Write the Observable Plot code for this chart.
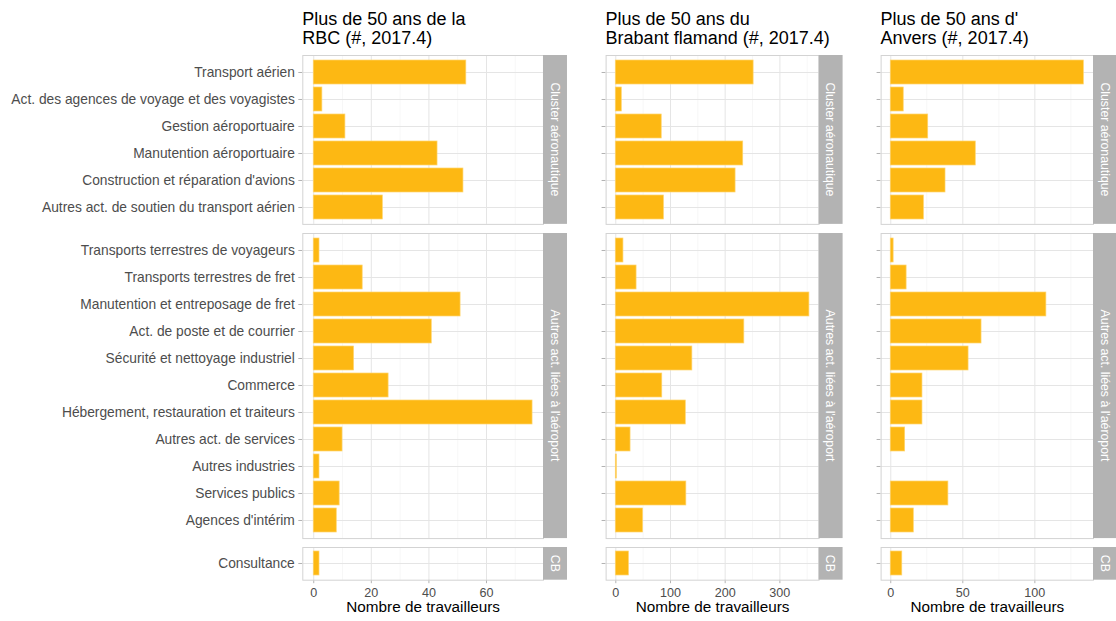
<!DOCTYPE html>
<html>
<head>
<meta charset="utf-8">
<script src="https://cdn.jsdelivr.net/npm/d3@7"></script>
<script src="https://cdn.jsdelivr.net/npm/@observablehq/plot@0.6"></script>
<style>
  html, body { margin: 0; padding: 0; background: #fff; overflow: hidden; }
  #chart { position: relative; width: 1116px; height: 621px; overflow: hidden;
           font-family: "Liberation Sans", Arial, Helvetica, sans-serif; }
  .title { position: absolute; top: 10px; font-size: 18px; line-height: 19px; color: #000; white-space: pre; }
  .facet { position: absolute; }
  .facet g[aria-label="x-axis"] line, .facet g[aria-label="y-axis"] line,
  .facet g[aria-label="x-axis tick"] path, .facet g[aria-label="y-axis tick"] path { stroke: #b3b3b3; }
  .facet g[aria-label="x-axis"] text, .facet g[aria-label="x-axis tick label"] text { font-size: 12.6px; }
</style>
</head>
<body>
<div id="chart"></div>
<script>
// Activity categories, one list per facet row
const clusterActivities = [
  "Transport aérien",
  "Act. des agences de voyage et des voyagistes",
  "Gestion aéroportuaire",
  "Manutention aéroportuaire",
  "Construction et réparation d'avions",
  "Autres act. de soutien du transport aérien"
];
const airportActivities = [
  "Transports terrestres de voyageurs",
  "Transports terrestres de fret",
  "Manutention et entreposage de fret",
  "Act. de poste et de courrier",
  "Sécurité et nettoyage industriel",
  "Commerce",
  "Hébergement, restauration et traiteurs",
  "Autres act. de services",
  "Autres industries",
  "Services publics",
  "Agences d'intérim"
];
const cbActivities = ["Consultance"];
const groupLabels = ["Cluster aéronautique", "Autres act. liées à l'aéroport", "CB"];

// Workers aged 50+ per activity (same order as the lists above, cluster → autres → CB)
const rbcValues     = [53, 3, 11, 43, 52, 24,   2, 17, 51, 41, 14, 26, 76, 10, 2, 9, 8,   2];
const brabantValues = [252, 11, 84, 233, 219, 88,   14, 38, 354, 235, 140, 85, 128, 27, 2, 129, 50,   24];
const anversValues  = [134, 9, 26, 59, 38, 23,   2, 11, 108, 63, 54, 22, 22, 10, 0, 40, 16,   8];

const regionTitles = [
  "Plus de 50 ans de la\nRBC (#, 2017.4)",
  "Plus de 50 ans du\nBrabant flamand (#, 2017.4)",
  "Plus de 50 ans d'\nAnvers (#, 2017.4)"
];
const rbcTicks = [0, 20, 40, 60],       rbcMinor = [10, 30, 50, 70];
const brabantTicks = [0, 100, 200, 300], brabantMinor = [50, 150, 250, 350];
const anversTicks = [0, 50, 100],        anversMinor = [25, 75, 125];
const axisTitle = "Nombre de travailleurs";

// ---- assemble tables ----
const groups = [clusterActivities, airportActivities, cbActivities];
function buildRows(values) {
  const rows = [];
  let k = 0;
  groups.forEach((acts, g) => acts.forEach(a => rows.push({activity: a, group: groupLabels[g], value: values[k++]})));
  return rows;
}
const regions = [
  {title: regionTitles[0], rows: buildRows(rbcValues),     ticks: rbcTicks,     minor: rbcMinor},
  {title: regionTitles[1], rows: buildRows(brabantValues), ticks: brabantTicks, minor: brabantMinor},
  {title: regionTitles[2], rows: buildRows(anversValues),  ticks: anversTicks,  minor: anversMinor}
];

// ---- layout ----
const columns = [
  {svgLeft: 0,   panelLeft: 302.3, panelRight: 543},
  {svgLeft: 575, panelLeft: 605.6, panelRight: 818.6},
  {svgLeft: 850, panelLeft: 880.6, panelRight: 1093}
];
const stripW = 24;
const step = 27.24, gap = 8.7, firstTop = 55.3;
const barFill = "#FDB813", barStroke = "#FFD56E";
const fontFamily = '"Liberation Sans", Arial, Helvetica, sans-serif';

// grey facet strip on the right of each panel, label reading top to bottom
function stripMark(label, x0, y0, h) {
  return () => {
    const g = d3.create("svg:g");
    g.append("rect").attr("x", x0).attr("y", y0).attr("width", stripW).attr("height", h).attr("fill", "#b3b3b3");
    g.append("text")
      .attr("transform", `translate(${x0 + stripW / 2},${y0 + h / 2}) rotate(90)`)
      .attr("text-anchor", "middle").attr("dy", "0.35em")
      .attr("fill", "#ffffff").attr("font-size", 12.3)
      .text(label);
    return g.node();
  };
}

const chart = document.getElementById("chart");

regions.forEach((region, c) => {
  const col = columns[c];
  const title = document.createElement("div");
  title.className = "title";
  title.style.left = col.panelLeft + "px";
  title.textContent = region.title;
  chart.appendChild(title);

  const maxV = d3.max(region.rows, d => d.value);
  const xDomain = [-0.05 * maxV, 1.05 * maxV];
  const svgWidth = col.panelRight + stripW - col.svgLeft;
  const marginLeft = col.panelLeft - col.svgLeft;

  let top = firstTop;
  groups.forEach((acts, g) => {
    const h = (acts.length + 0.2) * step;
    const last = g === groups.length - 1;
    const mt = 1, mb = last ? 44 : 1;
    const rows = region.rows.filter(d => d.group === groupLabels[g]);
    const plot = Plot.plot({
      width: svgWidth,
      height: h + mt + mb,
      marginTop: mt,
      marginBottom: mb,
      marginLeft,
      marginRight: stripW,
      style: {fontFamily, fontSize: "13.8px", color: "#4d4d4d", background: "transparent", overflow: "visible"},
      x: {domain: xDomain, ticks: region.ticks, tickSize: 3.5, tickPadding: 4, label: null, axis: last ? "bottom" : null},
      y: {domain: acts, paddingInner: 0.1, paddingOuter: 0.15, tickSize: 4, tickPadding: 4, label: null,
          tickFormat: c === 0 ? (d => d) : (() => "")},
      marks: [
        Plot.ruleX(region.minor, {x: d => d, stroke: "#f1f1f1", strokeWidth: 0.6}),
        Plot.ruleX(region.ticks, {x: d => d, stroke: "#e5e5e5", strokeWidth: 1}),
        Plot.ruleY(acts, {y: d => d, stroke: "#e5e5e5", strokeWidth: 1}),
        Plot.barX(rows, {x: "value", y: "activity", fill: barFill, stroke: barStroke, strokeWidth: 0.7}),
        Plot.frame({stroke: "#d3d3d3"}),
        stripMark(groupLabels[g], svgWidth - stripW, mt, h),
        last ? Plot.text([axisTitle], {text: d => d, frameAnchor: "bottom", dy: 32, fontSize: 15.3, fill: "#000"}) : null
      ]
    });
    plot.classList.add("facet");
    plot.style.position = "absolute";
    plot.style.left = col.svgLeft + "px";
    plot.style.top = (top - mt) + "px";
    chart.appendChild(plot);
    top += h + gap;
  });
});
</script>
</body>
</html>
